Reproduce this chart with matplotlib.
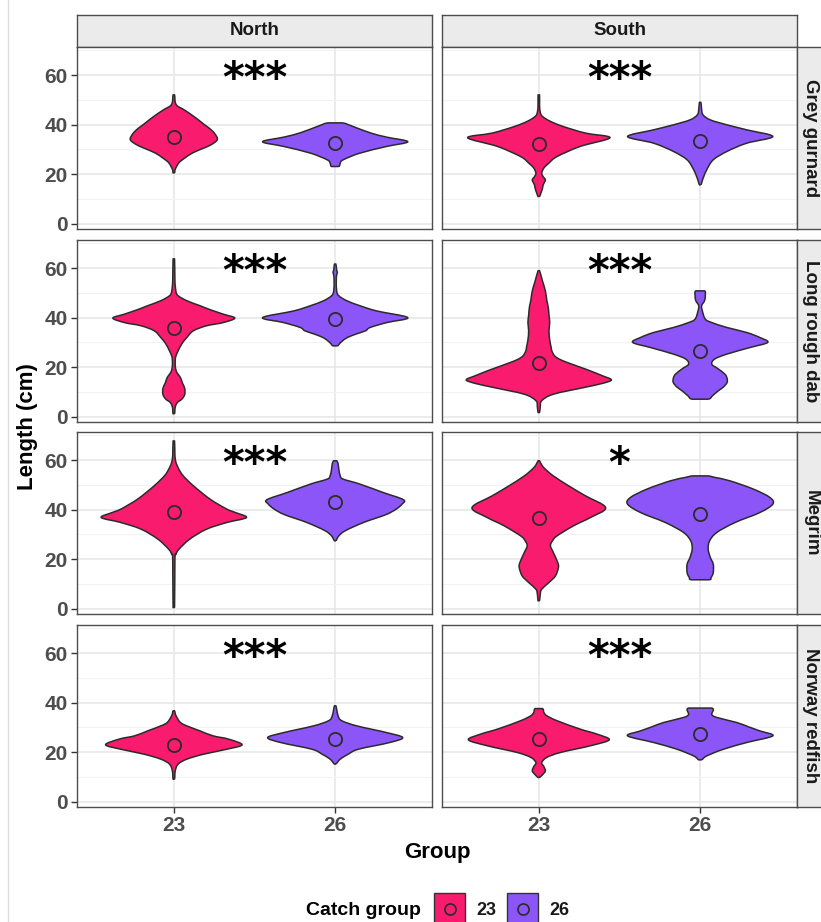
import matplotlib
matplotlib.use('Agg')
import matplotlib.pyplot as plt
import matplotlib as mpl
import numpy as np
from matplotlib.path import Path
from matplotlib.patches import PathPatch, Rectangle

mpl.rcParams['font.family'] = ['Liberation Sans', 'DejaVu Sans']
mpl.rcParams['font.weight'] = 'bold'

regions = ['North', 'South']
species = ['Grey gurnard', 'Long rough dab', 'Megrim', 'Norway redfish']
groups = ['23', '26']
group_colors = ['#F81B6E', '#8C55F8']

# violin outlines: (length cm, relative density)
north_gurnard_23 = [(20.5, .01), (22, .02), (24.6, .07), (26.5, .15), (28.6, .26), (30.5, .41), (32, .52),
                    (34, .60), (36.5, .56), (38.5, .49), (40, .42), (43, .29), (46, .14), (47.5, .05),
                    (49, .02), (52, .01)]
north_gurnard_26 = [(23.1, .05), (24.5, .07), (25.8, .11), (28.5, .34), (31.2, .71), (33.1, 1.0), (35, .70),
                    (36.7, .48), (39.2, .25), (40.7, .10)]
south_gurnard_23 = [(11, .01), (12.5, .03), (14.2, .05), (15.7, .06), (17.7, .09), (19, .06), (20.4, .04),
                    (22.5, .07), (24.5, .14), (27.1, .25), (31.2, .57), (34.7, .98), (36.6, .64), (39.2, .34),
                    (41.3, .16), (43.3, .05), (45, .02), (48, .01), (52, .01)]
south_gurnard_26 = [(15.7, .01), (17.5, .03), (19.1, .05), (21.8, .09), (25.8, .18), (29.2, .37), (32.5, .64),
                    (35.2, 1.0), (37.9, .64), (39.9, .37), (41.9, .14), (43.9, .04), (46, .02), (49, .01)]

north_dab_23 = [(1.2, .01), (4, .02), (5.8, .05), (7.1, .11), (9, .15), (11.5, .15), (13.5, .12), (15.9, .09),
                (17.5, .05), (18.8, .03), (20.5, .02), (23, .02), (24.6, .03), (26.6, .06), (29.4, .11),
                (32, .18), (34.7, .27), (36.7, .45), (38, .68), (39.8, .84), (41.4, .68), (43.2, .50),
                (44.8, .36), (46.8, .18), (48.8, .06), (50.5, .03), (55, .015), (63.7, .01)]
north_dab_26 = [(28.6, .03), (29.5, .06), (30.6, .10), (32, .17), (33.5, .30), (34.7, .42), (36, .48),
                (38, .71), (40, 1.0), (42.7, .57), (44.8, .34), (46.8, .16), (48.8, .05), (50.8, .02),
                (55, .015), (57.2, .02), (58.2, .03), (59.2, .02), (61.6, .01)]
south_dab_23 = [(1.7, .01), (4, .02), (6.5, .04), (9.1, .20), (11.8, .62), (13.5, .88), (14.9, 1.0),
                (16.5, .88), (18.5, .71), (20, .57), (21.5, .43), (23, .30), (24.5, .22), (26.5, .18),
                (28, .17), (31, .15), (34.7, .14), (38, .15), (41, .14), (44.1, .13), (47, .11),
                (50.8, .09), (54.8, .05), (58.9, .01)]
south_dab_26 = [(7.1, .11), (8.5, .17), (10.5, .25), (12, .32), (13.8, .37), (15.5, .37), (17.2, .34),
                (19.5, .24), (21.2, .16), (23.3, .20), (25.3, .37), (27.9, .68), (30, .93), (32, .82),
                (34, .64), (36, .37), (38, .16), (39.4, .07), (42.7, .03), (44.8, .02), (46.8, .06),
                (48.8, .07), (50.8, .06)]

north_megrim_23 = [(0.5, .01), (20, .015), (22, .03), (24, .07), (28.1, .22), (32.1, .45), (34.8, .73),
                   (36.8, 1.0), (38.8, .85), (40.2, .73), (44.2, .50), (49.6, .27), (53.6, .13), (56.3, .07),
                   (59, .03), (62, .015), (67.7, .01)]
north_megrim_26 = [(27.4, .01), (29.4, .05), (31.5, .14), (34.8, .39), (38, .70), (40.2, .84), (42.2, .92),
                   (44, .94), (46.9, .66), (50.3, .34), (52.3, .11), (53.6, .07), (56.3, .05), (58.5, .04),
                   (59.7, .02)]
south_megrim_23 = [(3.2, .01), (6, .02), (7.9, .04), (10.6, .14), (13.3, .23), (16.7, .27), (18.7, .26),
                   (22.7, .20), (25.4, .16), (27.5, .19), (29.4, .25), (33.5, .48), (36.8, .71), (40.8, .92),
                   (45.6, .64), (49.6, .41), (53.6, .20), (56.3, .09), (58, .04), (59.7, .01)]
south_megrim_26 = [(11.7, .12), (12.6, .15), (14.6, .18), (18, .18), (20.7, .14), (24.1, .11), (27.4, .13),
                   (30.8, .23), (34.8, .48), (38.8, .82), (42.2, 1.0), (44.9, .96), (48.3, .73), (51.6, .41),
                   (53, .20), (53.6, .10)]

north_redfish_23 = [(9.1, .01), (12.5, .02), (15.2, .06), (17.2, .18), (19.2, .41), (21.2, .73), (23, .94),
                    (25.3, .75), (26.6, .54), (28.6, .36), (30.6, .18), (32, .09), (34.7, .03), (36.7, .01)]
north_redfish_26 = [(15.2, .01), (17.2, .07), (19.2, .18), (21.2, .32), (23.9, .75), (25.9, .93), (27.9, .71),
                    (30.6, .30), (32.7, .09), (34.7, .04), (38.7, .01)]
south_redfish_23 = [(9.8, .01), (11.2, .06), (12.5, .09), (14.2, .07), (15.8, .04), (17.9, .11), (19.9, .30),
                    (22.6, .71), (25, .97), (27.3, .80), (29.3, .57), (32.7, .25), (34.7, .11), (36, .07),
                    (37.6, .05)]
south_redfish_26 = [(16.9, .02), (18.5, .09), (21.2, .32), (23.9, .64), (26.6, 1.0), (28.6, .82), (30.3, .66),
                    (32, .50), (34, .23), (35.2, .16), (37.8, .16)]

means_north_23 = [35.0, 36.0, 39.2, 22.9]
means_north_26 = [32.7, 39.5, 43.1, 25.5]
means_south_23 = [32.3, 21.5, 36.8, 25.4]
means_south_26 = [33.5, 26.6, 38.3, 27.3]

stars_north = ['***', '***', '***', '***']
stars_south = ['***', '***', '*', '***']

outlines = {
    'North': [(north_gurnard_23, north_gurnard_26), (north_dab_23, north_dab_26),
              (north_megrim_23, north_megrim_26), (north_redfish_23, north_redfish_26)],
    'South': [(south_gurnard_23, south_gurnard_26), (south_dab_23, south_dab_26),
              (south_megrim_23, south_megrim_26), (south_redfish_23, south_redfish_26)],
}
means = {'North': (means_north_23, means_north_26), 'South': (means_south_23, means_south_26)}
stars = {'North': stars_north, 'South': stars_south}

W, H = 821, 922
fig = plt.figure(figsize=(W / 100, H / 100), dpi=100)


def px_axes(x0, y0, w, h):
    return fig.add_axes([x0 / W, 1 - (y0 + h) / H, w / W, h / H])


def smooth_path(xs, ys, m):
    # closed Catmull-Rom outline as cubic beziers; straight across the top and bottom ends
    pts = np.column_stack([xs, ys])
    n = len(pts)
    verts = [pts[0]]
    codes = [Path.MOVETO]
    for i in range(n):
        p0, p1, p2, p3 = pts[i - 1], pts[i], pts[(i + 1) % n], pts[(i + 2) % n]
        if i == m - 1 or i == n - 1:
            verts.append(p2)
            codes.append(Path.LINETO)
        else:
            verts += [p1 + (p2 - p0) / 6, p2 - (p3 - p1) / 6, p2]
            codes += [Path.CURVE4] * 3
    return Path(verts, codes)


def violin(ax, pos, outline, color, half=0.45):
    ys = [p[0] for p in outline]
    ws = [p[1] * half for p in outline]
    xs = [pos + w for w in ws] + [pos - w for w in ws[::-1]]
    yy = ys + ys[::-1]
    patch = PathPatch(smooth_path(xs, yy, len(ys)), facecolor=color, edgecolor='#2B2B2B', lw=1.1,
                      joinstyle='round', zorder=3)
    ax.add_patch(patch)


col_x = [77, 442]
row_y = [47, 240, 432, 625]
pw, ph = 355, 182
edge = '#4D4D4D'

for c, region in enumerate(regions):
    strip = px_axes(col_x[c], 15, pw, 32)
    strip.set_facecolor('#EBEBEB')
    strip.set_xticks([])
    strip.set_yticks([])
    for s in strip.spines.values():
        s.set_color(edge)
        s.set_linewidth(1.0)
    strip.text(0.5, 0.5, region, ha='center', va='center', fontsize=13.5, fontweight='bold',
               color='#1A1A1A', transform=strip.transAxes)

    for r, sp in enumerate(species):
        ax = px_axes(col_x[c], row_y[r], pw, ph)
        ax.set_xlim(0.4, 2.6)
        ax.set_ylim(-2.1, 71.3)
        ax.set_xticks([1, 2])
        ax.set_yticks([0, 20, 40, 60])
        ax.set_yticks([10, 30, 50, 70], minor=True)
        ax.grid(which='major', color='#E6E6E6', lw=1.1, zorder=0)
        ax.grid(which='minor', axis='y', color='#F2F2F2', lw=0.7, zorder=0)
        ax.set_axisbelow(True)
        for s in ax.spines.values():
            s.set_color(edge)
            s.set_linewidth(1.0)
        ax.tick_params(which='minor', length=0)
        ax.tick_params(which='major', length=4, width=1, color='#333333', labelsize=15,
                       labelcolor='#4D4D4D', pad=2.5)
        if c == 0:
            ax.set_yticklabels(['0', '20', '40', '60'])
        else:
            ax.tick_params(axis='y', length=0, labelleft=False)
        if r == len(species) - 1:
            ax.set_xticklabels(groups)
        else:
            ax.tick_params(axis='x', length=0, labelbottom=False)

        for g in range(2):
            violin(ax, g + 1, outlines[region][r][g], group_colors[g])
            ax.plot(g + 1, means[region][g][r], 'o', ms=9.5, mfc='none', mec='#2B2B2B',
                    mew=1.3, zorder=4)

        ax.text(1.5, 53.0, stars[region][r], ha='center', va='baseline', fontsize=30,
                fontweight='bold', family='DejaVu Sans', color='black', zorder=5)

        if c == 1:
            rs = px_axes(797, row_y[r], 32, ph)
            rs.set_facecolor('#EBEBEB')
            rs.set_xticks([])
            rs.set_yticks([])
            for s in rs.spines.values():
                s.set_color(edge)
                s.set_linewidth(1.0)
            rs.text(0.43, 0.5, sp, ha='center', va='center', rotation=-90, fontsize=13.5,
                    fontweight='bold', color='#1A1A1A', transform=rs.transAxes)

# axis titles and legend on a pixel-space overlay
ov = fig.add_axes([0, 0, 1, 1])
ov.set_xlim(0, W)
ov.set_ylim(H, 0)
ov.axis('off')
ov.plot([8, 8], [0, H], color='#DDDDDD', lw=1)
ov.text(28, 427, 'Length (cm)', rotation=90, ha='center', va='center', fontsize=16,
        fontweight='bold', color='black')
ov.text(437, 852, 'Group', ha='center', va='center', fontsize=16, fontweight='bold', color='black')
ov.text(421, 910, 'Catch group', ha='right', va='center', fontsize=14, fontweight='bold', color='black')
for x0, lab, col in zip([434, 507], groups, group_colors):
    ov.add_patch(Rectangle((x0, 893), 31, 31, facecolor=col, edgecolor='#333333', lw=1.0))
    ov.plot(x0 + 15.5, 908.5, 'o', ms=8, mfc='none', mec='#2B2B2B', mew=1.2)
    ov.text(x0 + 42, 910, lab, ha='left', va='center', fontsize=13, fontweight='bold', color='#1A1A1A')

fig.savefig('out.png', dpi=100, facecolor='white')
